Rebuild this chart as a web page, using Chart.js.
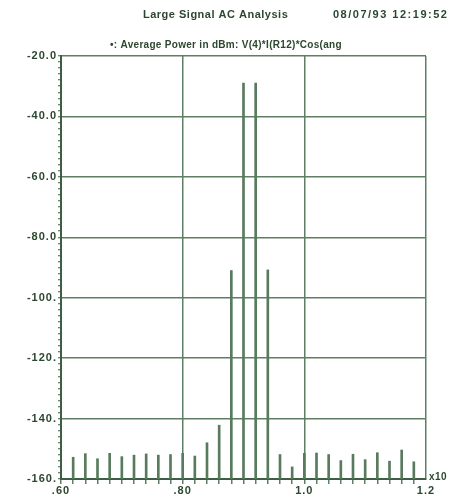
<!DOCTYPE html>
<html><head><meta charset="utf-8">
<style>html,body{margin:0;padding:0;background:#fff;}canvas{display:block}</style>
<script src="https://cdn.jsdelivr.net/npm/chart.js@4/dist/chart.umd.min.js"></script>
</head><body>
<canvas id="c" width="453" height="498"></canvas>
<script>
const titleText = 'Large Signal AC Analysis';
const dateText = '08/07/93 12:19:52';
const subtitleText = '\u2022: Average Power in dBm: V(4)*I(R12)*Cos(ang';
const xUnitText = 'x10';

const freqs = [0.62,0.64,0.66,0.68,0.70,0.72,0.74,0.76,0.78,0.80,
               0.82,0.84,0.86,0.88,0.90,0.92,0.94,0.96,0.98,1.00,
               1.02,1.04,1.06,1.08,1.10,1.12,1.14,1.16,1.18];
const powerDbm = [-152.8,-151.6,-153.3,-151.5,-152.6,-152.1,-151.7,-152.1,-151.9,-151.5,
                  -152.4,-148.0,-142.2,-91.0,-29.0,-29.0,-90.8,-151.9,-156.0,-151.5,
                  -151.4,-151.9,-153.9,-151.8,-153.6,-151.3,-154.1,-150.4,-154.3];

const yTickValues = [-20,-40,-60,-80,-100,-120,-140,-160];
const yTickLabels = ['-20.0','-40.0','-60.0','-80.0','-100.','-120.','-140.','-160.'];
const xTickValues = [0.6,0.8,1.0,1.2];
const xTickLabels = ['.60','.80','1.0','1.2'];

const TEXT = '#2c472f';
const AXIS = '#3e5e43';
const GRID = '#5f7f64';
const BAR = '#587a5d';

Chart.defaults.font.family = '"Liberation Sans", Arial, sans-serif';
Chart.defaults.font.weight = 'bold';
Chart.defaults.color = TEXT;

const yFloor = -160;

function findLabel(vals, labels, v, scale) {
  for (let i = 0; i < vals.length; i++) {
    if (Math.round(vals[i]*scale) === Math.round(v*scale)) return labels[i];
  }
  return '';
}

const textPlugin = {
  id: 'texts',
  beforeDraw(chart) { chart.ctx.letterSpacing = '1px'; },
  afterDraw(chart) {
    const ctx = chart.ctx;
    ctx.save();
    ctx.fillStyle = TEXT;
    ctx.textBaseline = 'middle';
    ctx.letterSpacing = '0.5px';
    ctx.font = 'bold 11px "Liberation Sans", Arial, sans-serif';
    ctx.textAlign = 'left';
    ctx.fillText(titleText, 143, 15);
    ctx.letterSpacing = '1.5px';
    ctx.font = 'bold 11px "Liberation Sans", Arial, sans-serif';
    ctx.fillText(dateText, 333, 15);
    ctx.letterSpacing = '0.3px';
    ctx.font = 'bold 10px "Liberation Sans", Arial, sans-serif';
    ctx.fillText(subtitleText, 110, 45);
    ctx.letterSpacing = '0.5px';
    ctx.font = 'bold 10px "Liberation Sans", Arial, sans-serif';
    ctx.fillText(xUnitText, 429, 477);
    ctx.restore();
  }
};

new Chart(document.getElementById('c'), {
  type: 'bar',
  data: {
    datasets: [{
      data: freqs.map((f, i) => ({ x: f, y: [yFloor, powerDbm[i]] })),
      backgroundColor: BAR,
      borderWidth: 0,
      barThickness: 2
    }]
  },
  options: {
    responsive: false,
    animation: false,
    devicePixelRatio: 1,
    layout: { autoPadding: false, padding: { top: 56, right: 27, left: 0, bottom: 0 } },
    plugins: { legend: { display: false }, tooltip: { enabled: false } },
    scales: {
      x: {
        type: 'linear',
        min: 0.6, max: 1.2,
        offset: false,
        afterFit(s) { s.height = 19; },
        border: { display: true, color: AXIS, width: 2 },
        grid: {
          offset: false,
          lineWidth: 1.5,
          color: c => {
            const v = Math.round(c.tick.value * 100);
            return (v === 80 || v === 100 || v === 120) ? GRID : 'rgba(0,0,0,0)';
          },
          drawTicks: true,
          tickLength: 5,
          tickColor: c => Math.round(c.tick.value*100) === 120 ? 'rgba(0,0,0,0)' : GRID,
          tickWidth: 1.5
        },
        ticks: {
          stepSize: 0.02,
          autoSkip: false,
          maxRotation: 0,
          maxTicksLimit: 1000,
          padding: 0,
          font: { size: 11, weight: 'bold' },
          callback: v => findLabel(xTickValues, xTickLabels, v, 100)
        }
      },
      y: {
        type: 'linear',
        min: -160, max: -20,
        afterFit(s) { s.width = 61; },
        border: { display: true, color: AXIS, width: 2 },
        grid: {
          lineWidth: 1.5,
          color: c => {
            const v = Math.round(c.tick.value);
            return (v % 20 === 0 && v !== -160) ? GRID : 'rgba(0,0,0,0)';
          },
          drawTicks: true,
          tickLength: 3,
          tickColor: AXIS,
          tickWidth: 1
        },
        ticks: {
          stepSize: 2,
          autoSkip: false,
          maxTicksLimit: 1000,
          padding: 1,
          font: { size: 11, weight: 'bold' },
          callback: v => findLabel(yTickValues, yTickLabels, v, 1)
        }
      }
    }
  },
  plugins: [textPlugin]
});
</script>
</body></html>
